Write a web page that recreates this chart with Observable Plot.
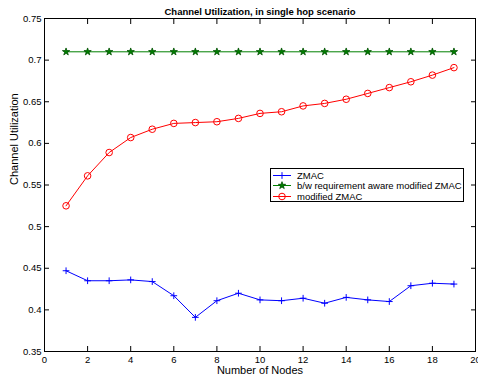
<!DOCTYPE html>
<html><head><meta charset="utf-8">
<script src="https://cdn.jsdelivr.net/npm/d3@7"></script>
<script src="https://cdn.jsdelivr.net/npm/@observablehq/plot@0.6"></script>
<style>
body{margin:0;background:#fff;}
#wrap{position:relative;width:478px;height:383px;font-family:"Liberation Sans",Arial,sans-serif;}
#legend{position:absolute;left:270px;top:168px;width:194px;height:34px;background:#fff;border:1px solid #000;box-sizing:border-box;}
.row{position:absolute;left:0;height:11px;display:flex;align-items:center;font-size:9.5px;color:#000;white-space:nowrap;}
.row svg{margin-left:2px;margin-right:6px;}
</style>
</head><body><div id="wrap"><div id="legend"></div></div>
<script>
const titleText = "Channel Utilization, in single hop scenario";
const xLabel = "Number of Nodes";
const yLabel = "Channel Utilization";
const nodes = [1,2,3,4,5,6,7,8,9,10,11,12,13,14,15,16,17,18,19];
const zmac = [0.447,0.435,0.435,0.436,0.434,0.417,0.391,0.411,0.420,0.412,0.411,0.414,0.408,0.415,0.412,0.410,0.429,0.432,0.431];
const bwAware = [0.710,0.710,0.710,0.710,0.710,0.710,0.710,0.710,0.710,0.710,0.710,0.710,0.710,0.710,0.710,0.710,0.710,0.710,0.710];
const modified = [0.525,0.561,0.589,0.607,0.617,0.624,0.625,0.626,0.630,0.636,0.638,0.645,0.648,0.653,0.660,0.667,0.674,0.682,0.691];
const xTicks = [0,2,4,6,8,10,12,14,16,18,20];
const yTicks = [0.35,0.4,0.45,0.5,0.55,0.6,0.65,0.7,0.75];
const seriesNames = ["ZMAC","b/w requirement aware modified ZMAC","modified ZMAC"];
const seriesColors = ["#0000ff","#008000","#ff0000"];
const seriesSymbols = ["plus","star","circle"];
const seriesValues = [zmac, bwAware, modified];

const data = [];
seriesValues.forEach((vals, s) => vals.forEach((v, i) => data.push({series: seriesNames[s], x: nodes[i], y: v})));
const byName = n => data.filter(d => d.series === n);

const fmt = d => String(d);
const blank = () => "";
const marks = [
  Plot.frame({stroke: "#000", strokeWidth: 1}),
  Plot.axisX({anchor: "bottom", ticks: xTicks, tickFormat: fmt, tickSize: -5, tickPadding: 10, fontSize: 9.5, label: null}),
  Plot.axisX({anchor: "top", ticks: xTicks, tickFormat: blank, tickSize: -5, label: null}),
  Plot.axisY({anchor: "left", ticks: yTicks, tickFormat: fmt, tickSize: -5, tickPadding: 8, fontSize: 9.5, label: null}),
  Plot.axisY({anchor: "right", ticks: yTicks, tickFormat: blank, tickSize: -5, label: null}),
  Plot.text([titleText], {frameAnchor: "top", dy: -10, fontWeight: "bold", fontSize: 9.5}),
  Plot.text([xLabel], {frameAnchor: "bottom", dy: 22, fontSize: 11}),
  Plot.text([yLabel], {frameAnchor: "left", dx: -30, rotate: -90, fontSize: 11})
];
const symR = {plus: 2.3, star: 2.3, circle: 3.3};
seriesNames.forEach((n, s) => {
  marks.push(Plot.line(byName(n), {x: "x", y: "y", stroke: seriesColors[s], strokeWidth: 1}));
  const sym = seriesSymbols[s];
  if (sym === "star") {
    marks.push(Plot.dot(byName(n), {x: "x", y: "y", symbol: "star", r: symR.star, fill: seriesColors[s], stroke: "#005000", strokeWidth: 0.8}));
  } else {
    marks.push(Plot.dot(byName(n), {x: "x", y: "y", symbol: sym, r: symR[sym], stroke: seriesColors[s], fill: "none", strokeWidth: 1}));
  }
});

const chart = Plot.plot({
  width: 478, height: 383,
  marginLeft: 44, marginRight: 3, marginTop: 18, marginBottom: 32,
  style: {fontFamily: "'Liberation Sans', Arial, sans-serif", background: "#fff", color: "#000"},
  x: {domain: [0, 20]},
  y: {domain: [0.35, 0.75]},
  marks
});
document.getElementById("wrap").prepend(chart);

// Legend
const legend = document.getElementById("legend");
seriesNames.forEach((n, s) => {
  const row = document.createElement("div");
  row.className = "row";
  row.style.top = (0.5 + s * 10.7) + "px";
  const svg = d3.create("svg").attr("width", 18).attr("height", 11);
  svg.append("line").attr("x1", 0).attr("x2", 18).attr("y1", 5.5).attr("y2", 5.5).attr("stroke", seriesColors[s]).attr("stroke-width", 1);
  const sym = seriesSymbols[s];
  const symMap = {plus: d3.symbolPlus, star: d3.symbolStar, circle: d3.symbolCircle};
  const size = Math.PI * symR[sym] * symR[sym];
  svg.append("path").attr("transform", "translate(9,5.5)").attr("d", d3.symbol(symMap[sym], size)())
    .attr("fill", sym === "star" ? seriesColors[s] : "none")
    .attr("stroke", sym === "star" ? "#005000" : seriesColors[s]).attr("stroke-width", sym === "star" ? 0.8 : 1);
  row.appendChild(svg.node());
  const span = document.createElement("span");
  span.textContent = n;
  row.appendChild(span);
  legend.appendChild(row);
});
</script>
</body></html>
